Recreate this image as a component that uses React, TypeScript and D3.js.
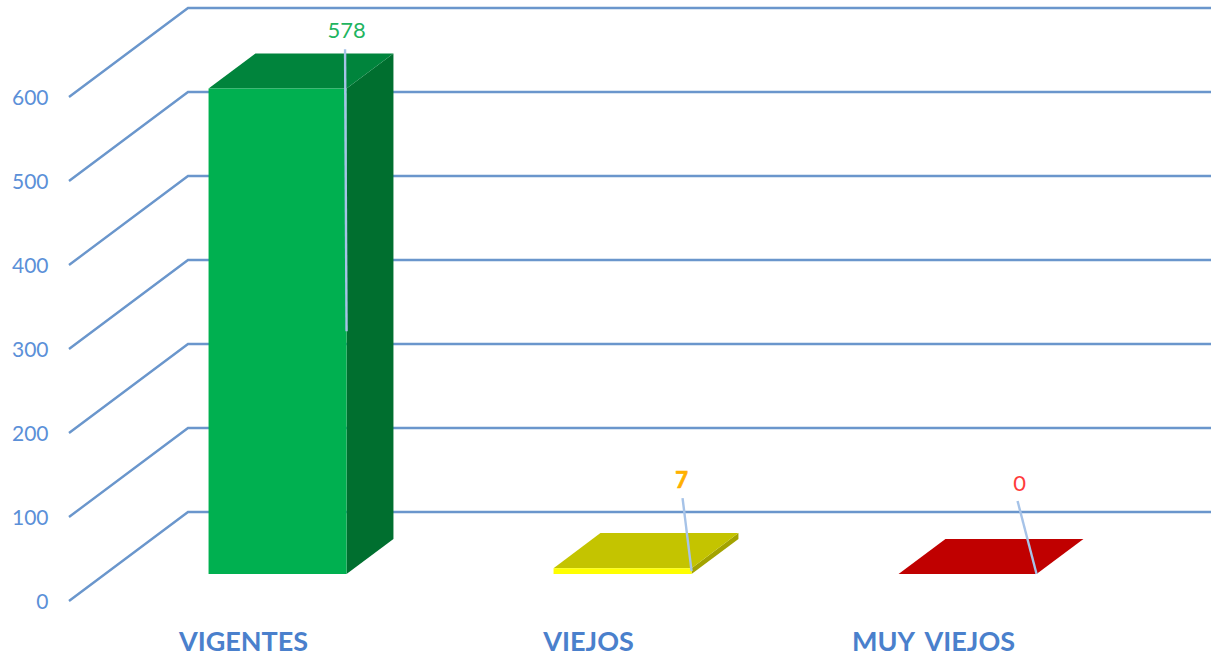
import { useEffect, useRef } from "react";
import * as d3 from "d3";

const categories = ["VIGENTES", "VIEJOS", "MUY VIEJOS"];
const values = [578, 7, 0];
const yTicks = [0, 100, 200, 300, 400, 500, 600];

const frontColors = ["#00B050", "#FFFF00", "#C00000"];
const topColors = ["#00843C", "#C4C400", "#C00000"];
const sideColors = ["#006F2F", "#A3A300", "#A00000"];
const labelColors = ["#1FB45F", "#FFB000", "#FF3B3B"];

const WIDTH = 1211;
const HEIGHT = 658;
const AXIS_COLOR = "#6A96CC";
const TEXT_COLOR = "#5B90D8";
const FONT = "Lato, 'Open Sans', sans-serif";

// leader line top and label, relative to the middle of the bar's right front edge
const leaderOffsets = [
  { dx: -1.5, dy: -282, labelDx: 0, labelDy: -293 },
  { dx: -9, dy: -73, labelDx: -10, labelDy: -83 },
  { dx: -19, dy: -73, labelDx: -17, labelDy: -83 },
];

const App = () => {
  const svgRef = useRef<SVGSVGElement | null>(null);

  useEffect(() => {
    if (!svgRef.current) return;

    const svg = d3.select(svgRef.current);
    svg.selectAll("*").remove();

    const x = d3
      .scaleBand<string>()
      .domain(categories)
      .range([69, 1104])
      .paddingInner(0.6)
      .paddingOuter(0.3);

    const y = d3.scaleLinear().domain([0, 600]).range([601, 97]);

    // depth of the floor: 0 = front edge, 1 = back wall
    const depthX = d3.scaleLinear().domain([0, 1]).range([0, 119]);
    const depthY = d3.scaleLinear().domain([0, 1]).range([0, -89]);
    const barNear = 0.303;
    const barFar = 0.697;

    const line = d3.line<[number, number]>();
    const x0 = x.range()[0];

    const grid = svg
      .append("g")
      .attr("fill", "none")
      .attr("stroke", AXIS_COLOR)
      .attr("stroke-width", 2.4);
    yTicks.forEach((t) => {
      const backY = y(t) + depthY(1);
      grid.append("path").attr("d", line([[x0, y(t)], [x0 + depthX(1), backY], [WIDTH, backY]]));
    });

    const axisText = svg
      .append("g")
      .attr("font-family", FONT)
      .attr("font-size", 21)
      .attr("fill", TEXT_COLOR);
    yTicks.forEach((t) => {
      axisText
        .append("text")
        .attr("x", 48.5)
        .attr("y", y(t) + 8)
        .attr("text-anchor", "end")
        .text(t);
    });

    categories.forEach((c, i) => {
      const v = values[i];
      const left = x(c) as number;
      const right = left + x.bandwidth();
      const near: [number, number] = [depthX(barNear), depthY(barNear)];
      const far: [number, number] = [depthX(barFar), depthY(barFar)];
      const y0 = y(0);
      const yv = y(v);

      const pt = (px: number, py: number, d: [number, number]): [number, number] => [
        px + d[0],
        py + d[1],
      ];
      const g = svg.append("g");

      g.append("path")
        .attr("d", line([pt(right, yv, near), pt(right, yv, far), pt(right, y0, far), pt(right, y0, near)]) + "Z")
        .attr("fill", sideColors[i]);
      g.append("path")
        .attr("d", line([pt(left, yv, near), pt(left, yv, far), pt(right, yv, far), pt(right, yv, near)]) + "Z")
        .attr("fill", topColors[i]);
      if (v > 0) {
        g.append("path")
          .attr("d", line([pt(left, yv, near), pt(right, yv, near), pt(right, y0, near), pt(left, y0, near)]) + "Z")
          .attr("fill", frontColors[i]);
      }

      const ax = right + near[0];
      const ay = (yv + y0) / 2 + near[1];
      const o = leaderOffsets[i];
      svg
        .append("path")
        .attr("d", line([[ax, ay], [ax + o.dx, ay + o.dy]]))
        .attr("fill", "none")
        .attr("stroke", "#A6C3E8")
        .attr("stroke-width", 2.4);
      svg
        .append("text")
        .attr("x", ax + o.labelDx)
        .attr("y", ay + o.labelDy)
        .attr("text-anchor", "middle")
        .attr("font-family", FONT)
        .attr("font-size", 22)
        .attr("font-weight", i === 1 ? 700 : 400)
        .attr("stroke", i === 1 ? labelColors[i] : "none")
        .attr("stroke-width", 0.7)
        .attr("fill", labelColors[i])
        .text(v);

      svg
        .append("text")
        .attr("x", (left + right) / 2 + near[0] - 34)
        .attr("y", 651)
        .attr("text-anchor", "middle")
        .attr("font-family", FONT)
        .attr("font-size", 27)
        .attr("font-weight", 700)
        .attr("word-spacing", 5)
        .attr("fill", "#4A80CC")
        .text(c);
    });
  }, []);

  return (
    <svg
      ref={svgRef}
      width={WIDTH}
      height={HEIGHT}
      viewBox={`0 0 ${WIDTH} ${HEIGHT}`}
      style={{ position: "absolute", left: 0, top: 0, background: "#fff" }}
    />
  );
};

export default App;
